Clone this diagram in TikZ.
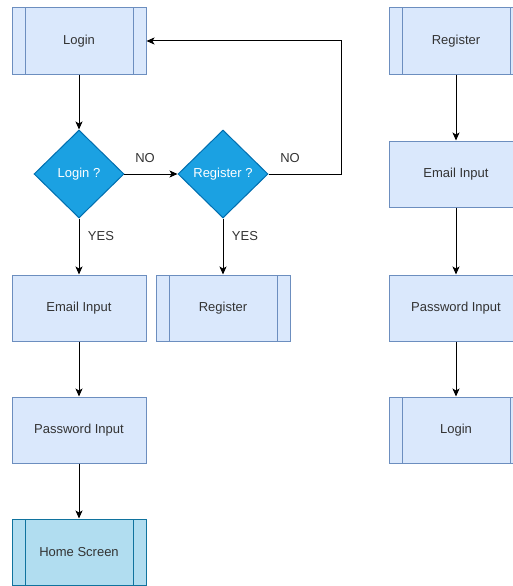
\documentclass[tikz,border=0pt]{standalone}
\usepackage{fontspec}
\setmainfont{Liberation Sans}
\usetikzlibrary{arrows.meta,shapes.geometric}
\definecolor{boxfill}{HTML}{DAE8FC}
\definecolor{boxline}{HTML}{6C8EBF}
\definecolor{askfill}{HTML}{1BA1E2}
\definecolor{askline}{HTML}{006EAF}
\definecolor{homefill}{HTML}{B1DDF0}
\definecolor{homeline}{HTML}{10739E}

\begin{document}
\begin{tikzpicture}[x=1pt, y=-1pt,
    box/.style ={rectangle, draw=boxline, fill=boxfill, line width=1pt, minimum width=134pt, minimum height=66pt, text=black!80, font=\fontsize{13}{15}\selectfont},
    sub/.style ={box, path picture={\draw[draw=#1, line width=1pt]
        ([xshift=13pt]path picture bounding box.north west) -- ([xshift=13pt]path picture bounding box.south west)
        ([xshift=-13pt]path picture bounding box.north east) -- ([xshift=-13pt]path picture bounding box.south east);}},
    sub/.default=boxline,
    ask/.style ={diamond, draw=askline, fill=askfill, line width=1pt, inner sep=0pt, minimum width=90pt, minimum height=88pt, text=white, font=\fontsize{13}{15}\selectfont},
    tag/.style ={text=black!80, font=\fontsize{13}{15}\selectfont},
    link/.style ={line width=1pt, -{Stealth[length=8pt,width=7pt,inset=2pt]}}]
   \useasboundingbox (0,0) rectangle (513,586);
   % left column
   \node[sub] (login)  at (79,41)  {Login};
   \node[ask] (loginq)  at (79,174)  {Login ?};
   \node[ask] (registerq)  at (223,174)  {Register ?};
   \node[box] (email)  at (79,308)  {Email Input};
   \node[sub] (register)  at (223,308)  {Register};
   \node[box] (password)  at (79,430)  {Password Input};
   \node[sub=homeline, fill=homefill, draw=homeline] (home)  at (79,552)  {Home Screen};
   \coordinate (turn) at (341,174);
   % right column
   \node[sub] (registerR)  at (456,41)  {Register};
   \node[box] (emailR)  at (456,174)  {Email Input};
   \node[box] (passwordR)  at (456,308)  {Password Input};
   \node[sub] (loginR)  at (456,430)  {Login};
   % labels
   \node[tag] (no1) at (145,158) {NO};
   \node[tag] (no2) at (290,158) {NO};
   \node[tag] (yes1) at (101,236) {YES};
   \node[tag] (yes2) at (245,236) {YES};
   % connectors
   \draw[link] (login) -- (loginq);
   \draw[link] (loginq) -- (registerq);
   \draw[link] (loginq) -- (email);
   \draw[link] (registerq) -- (register);
   \draw[link] (registerq) -- (turn) |- (login);
   \draw[link] (email) -- (password);
   \draw[link] (password) -- (home);
   \draw[link] (registerR) -- (emailR);
   \draw[link] (emailR) -- (passwordR);
   \draw[link] (passwordR) -- (loginR);
\end{tikzpicture}
\end{document}
